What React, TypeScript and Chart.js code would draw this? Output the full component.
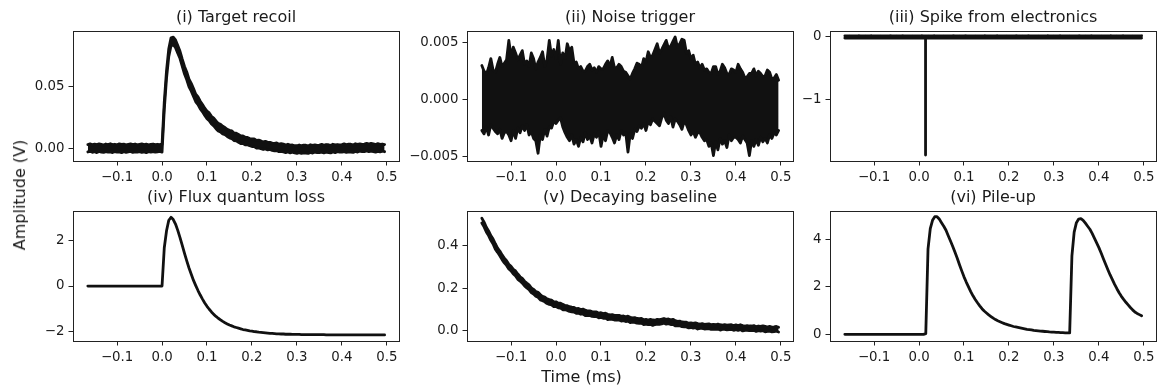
import React, { useEffect, useRef } from "react";
import { Chart, registerables } from "chart.js";

Chart.register(...registerables);

// ---- data ----
const TIME = [
  -0.165, -0.16, -0.155, -0.15, -0.145, -0.14, -0.135, -0.13, -0.125, -0.12,
  -0.115, -0.11, -0.105, -0.1, -0.095, -0.09, -0.085, -0.08, -0.075, -0.07,
  -0.065, -0.06, -0.055, -0.05, -0.045, -0.04, -0.035, -0.03, -0.025, -0.02,
  -0.015, -0.01, -0.005, 0, 0.005, 0.01, 0.015, 0.02, 0.025, 0.03,
  0.035, 0.04, 0.045, 0.05, 0.055, 0.06, 0.065, 0.07, 0.075, 0.08,
  0.085, 0.09, 0.095, 0.1, 0.105, 0.11, 0.115, 0.12, 0.125, 0.13,
  0.135, 0.14, 0.145, 0.15, 0.155, 0.16, 0.165, 0.17, 0.175, 0.18,
  0.185, 0.19, 0.195, 0.2, 0.205, 0.21, 0.215, 0.22, 0.225, 0.23,
  0.235, 0.24, 0.245, 0.25, 0.255, 0.26, 0.265, 0.27, 0.275, 0.28,
  0.285, 0.29, 0.295, 0.3, 0.305, 0.31, 0.315, 0.32, 0.325, 0.33,
  0.335, 0.34, 0.345, 0.35, 0.355, 0.36, 0.365, 0.37, 0.375, 0.38,
  0.385, 0.39, 0.395, 0.4, 0.405, 0.41, 0.415, 0.42, 0.425, 0.43,
  0.435, 0.44, 0.445, 0.45, 0.455, 0.46, 0.465, 0.47, 0.475, 0.48,
  0.485, 0.49, 0.495,
];

// (i) target recoil: upper / lower edge of the noisy trace
const RECOIL_HI = [
  0.003, 0.0035, 0.0027, 0.0033, 0.0029, 0.0035, 0.0031, 0.0026, 0.0034, 0.003,
  0.0036, 0.0029, 0.0032, 0.0027, 0.0035, 0.0031, 0.0033, 0.0028, 0.0032, 0.0035,
  0.0029, 0.0034, 0.0027, 0.0032, 0.0035, 0.003, 0.0033, 0.0028, 0.0031, 0.0034,
  0.0029, 0.0032, 0.003,
  0.003, 0.0375, 0.0627, 0.0803, 0.0891, 0.0896, 0.0874, 0.0829, 0.0782, 0.0718,
  0.066, 0.0615, 0.0557, 0.0523, 0.0481, 0.0436, 0.0414, 0.0379, 0.0352, 0.0323,
  0.03, 0.0285, 0.0257, 0.0243, 0.0221, 0.0201, 0.0194, 0.0177, 0.0167, 0.0153,
  0.0145, 0.014, 0.0123, 0.0121, 0.0111, 0.0099, 0.01, 0.0089, 0.0087, 0.0078,
  0.0075, 0.0075, 0.0063, 0.0065, 0.0059, 0.0051, 0.0056, 0.0048, 0.0048, 0.0041,
  0.004, 0.0043, 0.0033, 0.0037, 0.0033, 0.0026, 0.0032, 0.0025, 0.0026, 0.002,
  0.002, 0.0026, 0.0019, 0.0025, 0.0024, 0.0019, 0.0028, 0.0023, 0.0027, 0.0023,
  0.0026, 0.0031, 0.0023, 0.003, 0.0028, 0.0023, 0.0032, 0.0027, 0.003, 0.0027,
  0.0029, 0.0035, 0.0027, 0.0033, 0.0032, 0.0027, 0.0036, 0.0031, 0.0035, 0.0031,
  0.0034, 0.004, 0.0033, 0.0039, 0.0036, 0.003, 0.0037, 0.0032, 0.0034, 0.003,
];
const RECOIL_LO = [
  -0.003, -0.0025, -0.0033, -0.0028, -0.0035, -0.0026, -0.0031, -0.0034, -0.0027, -0.0032,
  -0.0029, -0.0035, -0.0027, -0.0032, -0.003, -0.0036, -0.0028, -0.0033, -0.0029, -0.0026,
  -0.0034, -0.003, -0.0032, -0.0027, -0.0033, -0.0029, -0.0035, -0.0028, -0.0031, -0.0027,
  -0.0032, -0.0029, -0.0026,
  -0.0031, 0.0313, 0.0566, 0.0741, 0.0828, 0.0835, 0.0812, 0.0767, 0.0724, 0.066,
  0.0599, 0.0553, 0.0496, 0.0461, 0.0418, 0.0375, 0.0352, 0.0317, 0.0294, 0.0265,
  0.0239, 0.0223, 0.0196, 0.0181, 0.0158, 0.014, 0.0132, 0.0115, 0.0109, 0.0095,
  0.0084, 0.0078, 0.0062, 0.0059, 0.0048, 0.0038, 0.0038, 0.0027, 0.0029, 0.002,
  0.0014, 0.0013, 0.0002, 0.0003, -0.0004, -0.001, -0.0006, -0.0014, -0.001, -0.0017,
  -0.0021, -0.0019, -0.0028, -0.0025, -0.003, -0.0035, -0.003, -0.0037, -0.0032, -0.0038,
  -0.0041, -0.0036, -0.0042, -0.0037, -0.0039, -0.0042, -0.0034, -0.0039, -0.0031, -0.0035,
  -0.0035, -0.0031, -0.0038, -0.0032, -0.0035, -0.0038, -0.003, -0.0035, -0.0028, -0.0031,
  -0.0032, -0.0027, -0.0034, -0.0029, -0.0031, -0.0034, -0.0026, -0.0031, -0.0023, -0.0027,
  -0.0027, -0.0022, -0.0028, -0.0023, -0.0027, -0.0031, -0.0025, -0.003, -0.0024, -0.0028,
];

// (ii) noise trigger: upper / lower edge
const NOISE_HI = [
  0.003, 0.0025, 0.0022, 0.0028, 0.0036, 0.0026, 0.0024, 0.0031, 0.0037, 0.0029,
  0.0032, 0.0035, 0.0052, 0.0038, 0.0046, 0.0041, 0.0035, 0.0039, 0.0043, 0.0031,
  0.0034, 0.0029, 0.0041, 0.0036, 0.0027, 0.0033, 0.0037, 0.0042, 0.0029, 0.0035,
  0.0052, 0.0038, 0.0044, 0.0036, 0.0052, 0.0031, 0.0041, 0.0036, 0.0049, 0.0043,
  0.0046, 0.0032, 0.0033, 0.0027, 0.0029, 0.0025, 0.0025, 0.0029, 0.0031, 0.0026,
  0.0028, 0.0024, 0.0029, 0.0027, 0.0027, 0.0031, 0.0034, 0.0029, 0.0037, 0.0028,
  0.0028, 0.0031, 0.0029, 0.0025, 0.0024, 0.0021, 0.0018, 0.0023, 0.0027, 0.0032,
  0.0031, 0.0028, 0.0036, 0.0033, 0.0042, 0.0037, 0.0039, 0.0044, 0.0049, 0.0041,
  0.0044, 0.0048, 0.0052, 0.0045, 0.0047, 0.0051, 0.0055, 0.0046, 0.0049, 0.0053,
  0.0052, 0.0041, 0.0043, 0.0036, 0.0039, 0.0031, 0.0033, 0.0028, 0.0031, 0.0026,
  0.0027, 0.0024, 0.0023, 0.0029, 0.0029, 0.0022, 0.0025, 0.0031, 0.0028, 0.0023,
  0.0022, 0.0027, 0.0026, 0.0024, 0.0031, 0.0027, 0.0024, 0.0019, 0.002, 0.0023,
  0.0023, 0.0027, 0.0021, 0.0025, 0.0023, 0.002, 0.0021, 0.0026, 0.0024, 0.0018,
  0.0019, 0.0022, 0.0017,
];
const NOISE_LO = [
  -0.0027, -0.003, -0.0024, -0.0031, -0.0022, -0.0025, -0.0028, -0.003, -0.0026, -0.0034,
  -0.0029, -0.0028, -0.0031, -0.0036, -0.0027, -0.0034, -0.0025, -0.0029, -0.0023, -0.0027,
  -0.0022, -0.0031, -0.0028, -0.0034, -0.0036, -0.0047, -0.0031, -0.0035, -0.0026, -0.0032,
  -0.0024, -0.0025, -0.0019, -0.0021, -0.0018, -0.0016, -0.0024, -0.0029, -0.0033, -0.0036,
  -0.0031, -0.0039, -0.0035, -0.0041, -0.0033, -0.0037, -0.0029, -0.0035, -0.0032, -0.0038,
  -0.003, -0.0033, -0.0028, -0.0041, -0.0031, -0.0036, -0.0027, -0.0029, -0.0033, -0.0038,
  -0.0031, -0.0035, -0.0027, -0.0031, -0.0029, -0.0046, -0.003, -0.0034, -0.0026, -0.0028,
  -0.0023, -0.0025, -0.0021, -0.0027, -0.0019, -0.0022, -0.0017, -0.0019, -0.0021, -0.0023,
  -0.0016, -0.0012, -0.0018, -0.0021, -0.0015, -0.0024, -0.0017, -0.0019, -0.0022, -0.0026,
  -0.0019, -0.0022, -0.0027, -0.0031, -0.0028, -0.0033, -0.0029, -0.0029, -0.0033, -0.0036,
  -0.0035, -0.0041, -0.0038, -0.0049, -0.0037, -0.0044, -0.0034, -0.0039, -0.0036, -0.0042,
  -0.0031, -0.0036, -0.0033, -0.0033, -0.0035, -0.0038, -0.0032, -0.0035, -0.0038, -0.0049,
  -0.0036, -0.0041, -0.0035, -0.004, -0.0033, -0.0037, -0.0034, -0.0038, -0.0031, -0.0034,
  -0.0029, -0.0031, -0.0027,
];

// (iii) spike from electronics: baseline edges and the spike itself
const SPIKE_BASE_HI = [
  0.018, 0.016, 0.019, 0.017, 0.018, 0.016, 0.019, 0.018, 0.017, 0.019,
  0.016, 0.018, 0.019, 0.017, 0.018, 0.016, 0.019, 0.017, 0.018, 0.016,
  0.019, 0.018, 0.017, 0.019, 0.016, 0.018, 0.019, 0.017, 0.018, 0.016,
  0.019, 0.017, 0.018, 0.016, 0.019, 0.018, 0.017, 0.019, 0.016, 0.018,
  0.019, 0.017, 0.018, 0.016, 0.019, 0.017, 0.018, 0.016, 0.019, 0.018,
  0.017, 0.019, 0.016, 0.018, 0.019, 0.017, 0.018, 0.016, 0.019, 0.017,
  0.018, 0.016, 0.019, 0.018, 0.017, 0.019, 0.016, 0.018, 0.019, 0.017,
  0.018, 0.016, 0.019, 0.017, 0.018, 0.016, 0.019, 0.018, 0.017, 0.019,
  0.016, 0.018, 0.019, 0.017, 0.018, 0.016, 0.019, 0.017, 0.018, 0.016,
  0.019, 0.018, 0.017, 0.019, 0.016, 0.018, 0.019, 0.017, 0.018, 0.016,
  0.019, 0.017, 0.018, 0.016, 0.019, 0.018, 0.017, 0.019, 0.016, 0.018,
  0.019, 0.017, 0.018, 0.016, 0.019, 0.017, 0.018, 0.016, 0.019, 0.018,
  0.017, 0.019, 0.016, 0.018, 0.019, 0.017, 0.018, 0.016, 0.019, 0.017,
  0.018, 0.016, 0.019,
];
const SPIKE_BASE_LO = [
  -0.017, -0.019, -0.016, -0.018, -0.017, -0.019, -0.016, -0.018, -0.019, -0.017,
  -0.018, -0.016, -0.017, -0.019, -0.016, -0.018, -0.017, -0.019, -0.016, -0.018,
  -0.017, -0.019, -0.018, -0.016, -0.019, -0.017, -0.018, -0.016, -0.017, -0.019,
  -0.016, -0.018, -0.017, -0.019, -0.016, -0.018, -0.019, -0.017, -0.018, -0.016,
  -0.017, -0.019, -0.016, -0.018, -0.017, -0.019, -0.016, -0.018, -0.019, -0.017,
  -0.018, -0.016, -0.017, -0.019, -0.016, -0.018, -0.017, -0.019, -0.016, -0.018,
  -0.017, -0.019, -0.018, -0.016, -0.019, -0.017, -0.018, -0.016, -0.017, -0.019,
  -0.016, -0.018, -0.017, -0.019, -0.016, -0.018, -0.019, -0.017, -0.018, -0.016,
  -0.017, -0.019, -0.016, -0.018, -0.017, -0.019, -0.016, -0.018, -0.019, -0.017,
  -0.018, -0.016, -0.017, -0.019, -0.016, -0.018, -0.017, -0.019, -0.016, -0.018,
  -0.017, -0.019, -0.018, -0.016, -0.019, -0.017, -0.018, -0.016, -0.017, -0.019,
  -0.016, -0.018, -0.017, -0.019, -0.016, -0.018, -0.019, -0.017, -0.018, -0.016,
  -0.017, -0.019, -0.016, -0.018, -0.017, -0.019, -0.016, -0.018, -0.019, -0.017,
  -0.018, -0.016, -0.017,
];
const SPIKE_T = [0.0145, 0.0145];
const SPIKE_V = [0, -1.88];

// (iv) flux quantum loss
const FLUX_V = [
  0, 0, 0, 0, 0, 0, 0, 0, 0, 0,
  0, 0, 0, 0, 0, 0, 0, 0, 0, 0,
  0, 0, 0, 0, 0, 0, 0, 0, 0, 0,
  0, 0, 0, 0, 1.7, 2.45, 2.92, 3.05, 2.95, 2.75,
  2.47, 2.15, 1.8, 1.45, 1.12, 0.8, 0.52, 0.25, 0.02, -0.2,
  -0.4, -0.58, -0.75, -0.9, -1.03, -1.15, -1.26, -1.35, -1.43, -1.5,
  -1.57, -1.63, -1.68, -1.73, -1.77, -1.81, -1.84, -1.87, -1.9, -1.93,
  -1.95, -1.97, -1.99, -2.0, -2.02, -2.03, -2.05, -2.06, -2.07, -2.08,
  -2.09, -2.1, -2.1, -2.11, -2.12, -2.12, -2.13, -2.13, -2.14, -2.14,
  -2.14, -2.15, -2.15, -2.15, -2.15, -2.16, -2.16, -2.16, -2.16, -2.16,
  -2.16, -2.16, -2.16, -2.16, -2.16, -2.16, -2.17, -2.17, -2.17, -2.17,
  -2.17, -2.17, -2.17, -2.17, -2.17, -2.17, -2.17, -2.17, -2.17, -2.17,
  -2.17, -2.17, -2.17, -2.17, -2.17, -2.17, -2.17, -2.17, -2.17, -2.17,
  -2.17, -2.17, -2.17,
];

// (v) decaying baseline: upper / lower edge
const DECAY_HI = [
  0.526, 0.508, 0.484, 0.467, 0.445, 0.429, 0.407, 0.387, 0.373, 0.355,
  0.34, 0.328, 0.311, 0.302, 0.288, 0.28, 0.266, 0.253, 0.245, 0.232,
  0.223, 0.215, 0.201, 0.194, 0.184, 0.18, 0.17, 0.161, 0.158, 0.15,
  0.146, 0.144, 0.136, 0.136, 0.13, 0.13, 0.124, 0.119, 0.118, 0.113,
  0.111, 0.11, 0.104, 0.105, 0.1, 0.102, 0.097, 0.093, 0.094, 0.09,
  0.089, 0.089, 0.083, 0.085, 0.081, 0.083, 0.078, 0.075, 0.076, 0.073,
  0.072, 0.073, 0.068, 0.07, 0.066, 0.069, 0.064, 0.061, 0.062, 0.058,
  0.057, 0.058, 0.052, 0.054, 0.051, 0.054, 0.051, 0.05, 0.054, 0.053,
  0.055, 0.058, 0.054, 0.056, 0.052, 0.054, 0.049, 0.045, 0.046, 0.042,
  0.041, 0.041, 0.036, 0.038, 0.035, 0.038, 0.034, 0.032, 0.034, 0.031,
  0.032, 0.033, 0.029, 0.031, 0.029, 0.032, 0.029, 0.027, 0.029, 0.027,
  0.028, 0.029, 0.025, 0.028, 0.025, 0.029, 0.025, 0.023, 0.025, 0.023,
  0.023, 0.025, 0.02, 0.023, 0.021, 0.024, 0.021, 0.018, 0.021, 0.018,
  0.019, 0.021, 0.017,
];
const DECAY_LO = [
  0.504, 0.486, 0.462, 0.445, 0.423, 0.406, 0.382, 0.367, 0.351, 0.333,
  0.318, 0.306, 0.289, 0.28, 0.266, 0.257, 0.241, 0.233, 0.223, 0.21,
  0.201, 0.193, 0.179, 0.172, 0.162, 0.157, 0.145, 0.141, 0.136, 0.128,
  0.124, 0.122, 0.114, 0.114, 0.108, 0.107, 0.099, 0.099, 0.096, 0.091,
  0.089, 0.088, 0.082, 0.083, 0.078, 0.079, 0.072, 0.073, 0.072, 0.068,
  0.067, 0.067, 0.061, 0.063, 0.059, 0.06, 0.053, 0.055, 0.054, 0.051,
  0.05, 0.051, 0.046, 0.048, 0.044, 0.046, 0.039, 0.041, 0.04, 0.036,
  0.035, 0.036, 0.03, 0.032, 0.029, 0.031, 0.026, 0.03, 0.032, 0.031,
  0.033, 0.036, 0.032, 0.034, 0.03, 0.031, 0.024, 0.025, 0.024, 0.02,
  0.019, 0.019, 0.014, 0.016, 0.013, 0.015, 0.009, 0.012, 0.012, 0.009,
  0.01, 0.011, 0.007, 0.009, 0.007, 0.009, 0.004, 0.007, 0.007, 0.005,
  0.006, 0.007, 0.003, 0.006, 0.003, 0.006, 0.0, 0.003, 0.003, 0.001,
  0.001, 0.003, -0.002, 0.001, -0.001, 0.001, -0.004, -0.002, -0.001, -0.004,
  -0.003, -0.001, -0.005,
];

// (vi) pile-up
const PILEUP_V = [
  0, 0, 0, 0, 0, 0, 0, 0, 0, 0,
  0, 0, 0, 0, 0, 0, 0, 0, 0, 0,
  0, 0, 0, 0, 0, 0, 0, 0, 0, 0,
  0, 0, 0, 0, 0, 0, 0.03, 3.6, 4.45, 4.8,
  4.95, 4.95, 4.85, 4.7, 4.55, 4.38, 4.15, 3.93, 3.7, 3.45,
  3.2, 2.93, 2.67, 2.42, 2.2, 2.0, 1.8, 1.62, 1.47, 1.33,
  1.2, 1.08, 0.98, 0.9, 0.82, 0.75, 0.68, 0.62, 0.57, 0.53,
  0.49, 0.45, 0.42, 0.39, 0.36, 0.33, 0.31, 0.29, 0.27, 0.25,
  0.23, 0.21, 0.2, 0.19, 0.17, 0.16, 0.15, 0.14, 0.13, 0.12,
  0.11, 0.1, 0.095, 0.09, 0.085, 0.08, 0.075, 0.07, 0.065, 0.06,
  0.06, 3.3, 4.3, 4.7, 4.85, 4.87, 4.8, 4.68, 4.55, 4.42,
  4.25, 4.05, 3.85, 3.65, 3.42, 3.18, 2.95, 2.72, 2.5, 2.3,
  2.1, 1.92, 1.75, 1.6, 1.47, 1.35, 1.24, 1.13, 1.03, 0.94,
  0.88, 0.83, 0.78,
];

const TITLES = [
  "(i) Target recoil",
  "(ii) Noise trigger",
  "(iii) Spike from electronics",
  "(iv) Flux quantum loss",
  "(v) Decaying baseline",
  "(vi) Pile-up",
];
const X_TICKS = [-0.1, 0, 0.1, 0.2, 0.3, 0.4, 0.5];
const Y_TICKS = [
  [0, 0.05],
  [-0.005, 0, 0.005],
  [-1, 0],
  [-2, 0, 2],
  [0, 0.2, 0.4],
  [0, 2, 4],
];
const Y_DECIMALS = [2, 3, 0, 0, 1, 0];
const Y_RANGES = [
  [-0.0103, 0.0946],
  [-0.00538, 0.00602],
  [-1.975, 0.095],
  [-2.44, 3.33],
  [-0.047, 0.56],
  [-0.28, 5.19],
];
const X_RANGE = [-0.198, 0.527];
const X_LABEL = "Time (ms)";
const Y_LABEL = "Amplitude (V)";

// ---- layout / style ----
const FONT = "'DejaVu Sans', sans-serif";
const TITLE_SIZE = 16;
const TICK_SIZE = 13.33;
const PAD_L = 72;
const PAD_R = 16;
const PAD_T = 26;
const PAD_B = 28;
const TITLE_GAP = 13.5;
const PLOT_W = 326;
const PLOT_H = 130;
const COL_LEFT = [73, 467, 830];
const ROW_TOP = [31, 211];
const LINE_COLOR = "#111111";
const TEXT_COLOR = "#1a1a1a";
const AXIS_COLOR = "#222222";
const LINE_W = 2.8;

const fmt = (v: number, d: number) => v.toFixed(d).replace("-", "\u2212");
const pair = (vals: number[]) => TIME.map((t, i) => ({ x: t, y: vals[i] }));

const lineStyle = {
  borderColor: LINE_COLOR,
  borderWidth: LINE_W,
  pointRadius: 0,
  tension: 0,
  borderJoinStyle: "round",
  borderCapStyle: "round",
};

function band(hi: number[], lo: number[]) {
  return [
    { ...lineStyle, data: pair(hi), fill: false },
    { ...lineStyle, data: pair(lo), fill: "-1", backgroundColor: LINE_COLOR },
  ];
}

function buildDatasets(idx: number): any[] {
  switch (idx) {
    case 0:
      return band(RECOIL_HI, RECOIL_LO);
    case 1:
      return band(NOISE_HI, NOISE_LO);
    case 2:
      return [
        ...band(SPIKE_BASE_HI, SPIKE_BASE_LO),
        {
          ...lineStyle,
          data: SPIKE_T.map((t, i) => ({ x: t, y: SPIKE_V[i] })),
          fill: false,
        },
      ];
    case 3:
      return [{ ...lineStyle, data: pair(FLUX_V), fill: false }];
    case 4:
      return band(DECAY_HI, DECAY_LO);
    default:
      return [{ ...lineStyle, data: pair(PILEUP_V), fill: false }];
  }
}

// axes frame (all four spines) and the panel title centred over the plot area
const framePlugin = {
  id: "frame",
  afterDatasetsDraw(chart: any) {
    const { ctx, chartArea: a } = chart;
    ctx.save();
    ctx.strokeStyle = AXIS_COLOR;
    ctx.lineWidth = 1;
    const l = Math.round(a.left) + 0.5;
    const t = Math.round(a.top) + 0.5;
    const r = Math.round(a.right) + 0.5;
    const b = Math.round(a.bottom) + 0.5;
    ctx.strokeRect(l, t, r - l, b - t);
    const title = chart.options.plugins.panelTitle?.text;
    if (title) {
      ctx.fillStyle = TEXT_COLOR;
      ctx.font = `${TITLE_SIZE}px ${FONT}`;
      ctx.textAlign = "center";
      ctx.textBaseline = "middle";
      ctx.fillText(title, (a.left + a.right) / 2, a.top - TITLE_GAP);
    }
    ctx.restore();
  },
};

function axisGrid() {
  return {
    display: true,
    drawOnChartArea: false,
    drawTicks: true,
    tickLength: 4.5,
    color: AXIS_COLOR,
    lineWidth: 1,
  };
}

function Panel({ idx }: { idx: number }) {
  const ref = useRef<HTMLCanvasElement | null>(null);
  const col = idx % 3;
  const row = Math.floor(idx / 3);
  const left = COL_LEFT[col] - PAD_L;
  const top = ROW_TOP[row] - PAD_T;
  const width = PAD_L + PLOT_W + PAD_R;
  const height = PAD_T + PLOT_H + PAD_B;

  useEffect(() => {
    if (!ref.current) return;
    const yTicks = Y_TICKS[idx];
    const dec = Y_DECIMALS[idx];
    const chart = new Chart(ref.current, {
      type: "line",
      data: { datasets: buildDatasets(idx) },
      options: {
        animation: false,
        responsive: false,
        maintainAspectRatio: false,
        devicePixelRatio: 1,
        layout: { padding: { left: 0, right: PAD_R, top: PAD_T, bottom: 0 } },
        plugins: {
          legend: { display: false },
          tooltip: { enabled: false },
          title: { display: false },
          panelTitle: { text: TITLES[idx] },
        },
        scales: {
          x: {
            type: "linear",
            min: X_RANGE[0],
            max: X_RANGE[1],
            afterBuildTicks: (s: any) => {
              s.ticks = X_TICKS.map((v) => ({ value: v }));
            },
            afterFit: (s: any) => {
              s.height = PAD_B;
            },
            ticks: {
              autoSkip: false,
              maxRotation: 0,
              padding: 4,
              color: TEXT_COLOR,
              font: { family: FONT, size: TICK_SIZE },
              callback: (v: any) => fmt(Number(v), 1),
            },
            grid: axisGrid(),
            border: { display: false },
          },
          y: {
            type: "linear",
            min: Y_RANGES[idx][0],
            max: Y_RANGES[idx][1],
            afterBuildTicks: (s: any) => {
              s.ticks = yTicks.map((v) => ({ value: v }));
            },
            afterFit: (s: any) => {
              s.width = PAD_L;
            },
            ticks: {
              autoSkip: false,
              padding: 4,
              color: TEXT_COLOR,
              font: { family: FONT, size: TICK_SIZE },
              callback: (v: any) => fmt(Number(v), dec),
            },
            grid: axisGrid(),
            border: { display: false },
          },
        },
      },
      plugins: [framePlugin],
    } as any);
    return () => chart.destroy();
  }, [idx]);

  return (
    <canvas
      ref={ref}
      width={width}
      height={height}
      style={{ position: "absolute", left, top, width, height }}
    />
  );
}

export default function App() {
  return (
    <div
      style={{
        position: "fixed",
        left: 0,
        top: 0,
        width: 1163,
        height: 390,
        background: "#ffffff",
        overflow: "hidden",
        fontFamily: FONT,
        color: TEXT_COLOR,
      }}
    >
      {[0, 1, 2, 3, 4, 5].map((i) => (
        <Panel key={i} idx={i} />
      ))}
      <div
        style={{
          position: "absolute",
          left: 0,
          top: 368,
          width: 1163,
          textAlign: "center",
          fontSize: 16,
          lineHeight: "18px",
        }}
      >
        {X_LABEL}
      </div>
      <div
        style={{
          position: "absolute",
          left: 20,
          top: 195,
          fontSize: 16,
          lineHeight: "18px",
          whiteSpace: "nowrap",
          transform: "translate(-50%, -50%) rotate(-90deg)",
        }}
      >
        {Y_LABEL}
      </div>
    </div>
  );
}
